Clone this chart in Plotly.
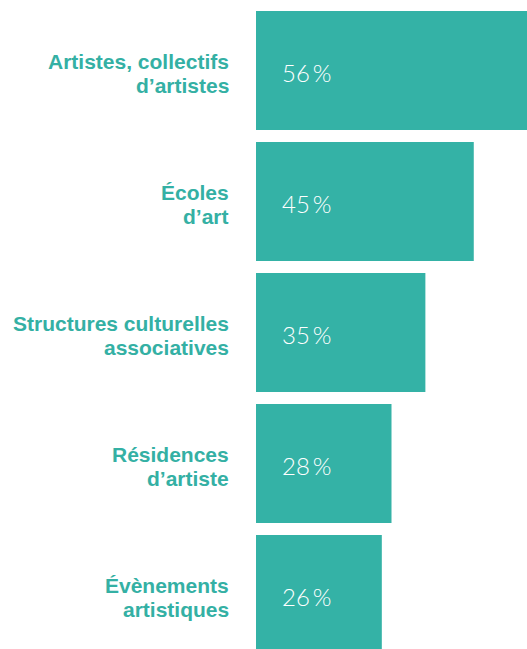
import plotly.graph_objects as go

categories = [
    "Artistes, collectifs<br>d’artistes",
    "Écoles<br>d’art",
    "Structures culturelles<br>associatives",
    "Résidences<br>d’artiste",
    "Évènements<br>artistiques",
]
values = [56, 45, 35, 28, 26]
value_labels = ["56\u2009%", "45\u2009%", "35\u2009%", "28\u2009%", "26\u2009%"]

BAR = "#34b2a6"
LABEL = "#34b0a4"

fig = go.Figure(
    go.Bar(
        y=categories,
        x=values,
        orientation="h",
        marker=dict(color=BAR, line=dict(width=0)),
        width=0.908,
        hoverinfo="skip",
    )
)

annotations = []
for cat, val_label in zip(categories, value_labels):
    lines = cat.split("<br>")
    shifts = [9, -15] if len(lines) == 2 else [-3]
    for line, ys in zip(lines, shifts):
        annotations.append(
            dict(
                x=0, xref="paper", y=cat, yref="y",
                text=line, showarrow=False,
                xanchor="right", yanchor="middle",
                xshift=-25, yshift=ys,
                font=dict(family="Liberation Sans, Arial, sans-serif", size=21,
                          color=LABEL, weight="bold"),
            )
        )
    annotations.append(
        dict(
            x=0, xref="x", y=cat, yref="y",
            text=val_label, showarrow=False,
            xanchor="left", yanchor="middle",
            xshift=24, yshift=-2,
            font=dict(family="Lato, sans-serif", size=24, color="white", weight=300),
        )
    )

fig.update_layout(
    width=527, height=649,
    margin=dict(l=256, r=0, t=0, b=0),
    paper_bgcolor="white", plot_bgcolor="white",
    showlegend=False,
    annotations=annotations,
    xaxis=dict(range=[0, 56], visible=False, fixedrange=True),
    yaxis=dict(type="category", range=[4.416, -0.538], visible=False, fixedrange=True),
)

fig.write_html(
    "out.html",
    config={"displayModeBar": False, "responsive": False},
    post_script="document.body.style.margin='0';document.body.style.overflow='hidden';",
)
